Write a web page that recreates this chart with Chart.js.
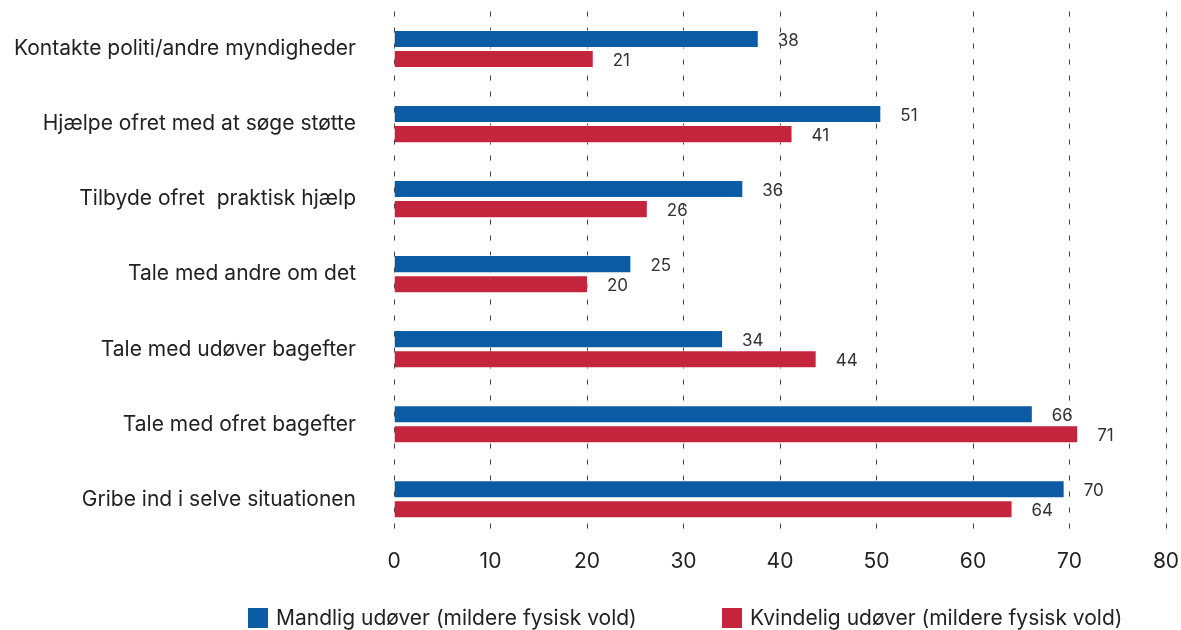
<!DOCTYPE html>
<html><head><meta charset="utf-8">
<script src="https://cdn.jsdelivr.net/npm/chart.js@4"></script>
<style>
html,body{margin:0;padding:0;background:#fff;}
#wrap{position:relative;width:1181px;height:630px;}
#legend{position:absolute;left:0;top:605px;width:1181px;height:26px;font-family:Inter,sans-serif;font-size:21px;color:#222;}
.li{position:absolute;top:0;display:flex;align-items:center;white-space:nowrap;line-height:26px;}
.sw{width:20px;height:20px;margin-right:8px;display:inline-block;}
</style></head>
<body><div id="wrap"><canvas id="c" width="1181" height="630"></canvas>
<div id="legend"></div></div>
<script>
const categories = ["Kontakte politi/andre myndigheder","Hjælpe ofret med at søge støtte","Tilbyde ofret  praktisk hjælp","Tale med andre om det","Tale med udøver bagefter","Tale med ofret bagefter","Gribe ind i selve situationen"];
const seriesNames = ["Mandlig udøver (mildere fysisk vold)","Kvindelig udøver (mildere fysisk vold)"];
const maleValues = [37.8, 50.5, 36.2, 24.6, 34.1, 66.2, 69.5];
const femaleValues = [20.7, 41.3, 26.3, 20.1, 43.8, 70.9, 64.1];
const maleLabels = [38, 51, 36, 25, 34, 66, 70];
const femaleLabels = [21, 41, 26, 20, 44, 71, 64];
const xTicks = [0,10,20,30,40,50,60,70,80];
const colors = ["#0c5ca5","#c4253c"];

const labelsPlugin = {
  id:'valueLabels',
  afterDatasetsDraw(chart){
    const ctx = chart.ctx;
    ctx.save();
    ctx.font = '17px Inter, sans-serif';
    ctx.fillStyle = '#333';
    ctx.textAlign = 'left';
    ctx.textBaseline = 'middle';
    const lbls = [maleLabels, femaleLabels];
    chart.data.datasets.forEach((ds, di) => {
      chart.getDatasetMeta(di).data.forEach((bar, i) => {
        ctx.fillText(String(lbls[di][i]), bar.x + 19, bar.y + 1.5);
      });
    });
    ctx.restore();
  }
};

new Chart(document.getElementById('c'), {
  type:'bar',
  data:{
    labels: categories,
    datasets:[
      {label: seriesNames[0], data: maleValues, backgroundColor: colors[0], borderColor:'rgba(255,255,255,0.6)', borderWidth:1, categoryPercentage:0.535, barPercentage:0.9},
      {label: seriesNames[1], data: femaleValues, backgroundColor: colors[1], borderColor:'rgba(255,255,255,0.6)', borderWidth:1, categoryPercentage:0.535, barPercentage:0.9}
    ]
  },
  options:{
    indexAxis:'y',
    responsive:false,
    animation:false,
    layout:{padding:{top:11.5,right:15,bottom:44,left:0}},
    plugins:{legend:{display:false}, tooltip:{enabled:false}},
    scales:{
      x:{
        min:0,max:80,
        afterBuildTicks(s){ s.ticks = xTicks.map(v=>({value:v})); },
        afterFit(s){ s.paddingLeft = 0; s.paddingRight = 0; },
        grid:{color:'#444', lineWidth:1, drawTicks:false},
        border:{display:false, dash:[5,11]},
        ticks:{font:{family:'Inter', size:21}, color:'#222', padding:12}
      },
      y:{
        afterFit(s){ s.width = 394; s.paddingTop = 0; s.paddingBottom = 0; },
        grid:{display:false},
        border:{display:false},
        ticks:{font:{family:'Inter', size:21}, color:'#222', padding:30}
      }
    }
  },
  plugins:[labelsPlugin]
});

const leg = document.getElementById('legend');
const pos = [248, 722];
seriesNames.forEach((n,i)=>{
  const d = document.createElement('div'); d.className='li'; d.style.left = pos[i]+'px';
  const s = document.createElement('span'); s.className='sw'; s.style.background = colors[i];
  const t = document.createElement('span'); t.textContent = n;
  d.appendChild(s); d.appendChild(t); leg.appendChild(d);
});
</script></body></html>
